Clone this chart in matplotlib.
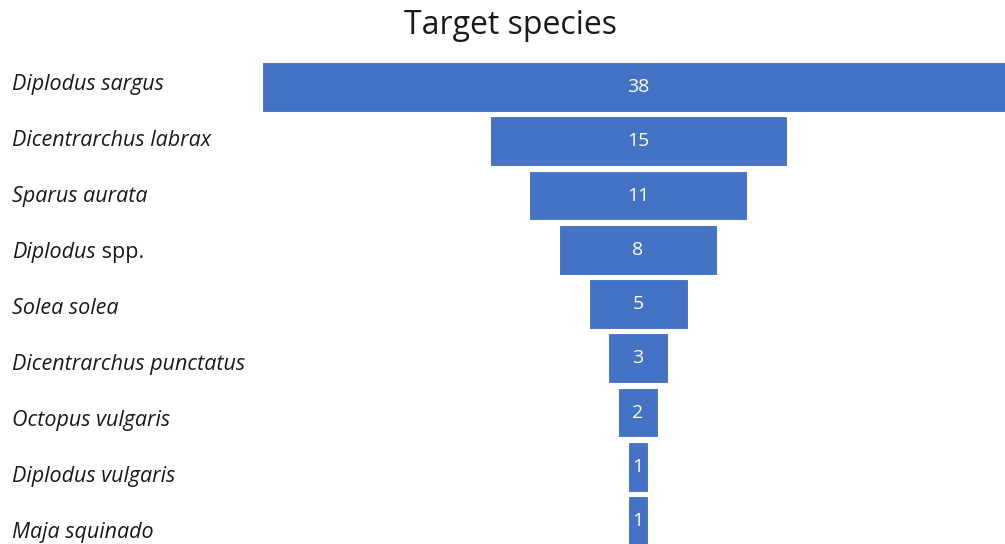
import matplotlib
matplotlib.use('Agg')
import matplotlib.pyplot as plt
import matplotlib.transforms as mtransforms

# species and counts, top to bottom
species = ['Diplodus sargus', 'Dicentrarchus labrax', 'Sparus aurata', 'Diplodus',
           'Solea solea', 'Dicentrarchus punctatus', 'Octopus vulgaris',
           'Diplodus vulgaris', 'Maja squinado']
suffix = ['', '', '', ' spp.', '', '', '', '', '']
counts = [38, 15, 11, 8, 5, 3, 2, 1, 1]

plt.rcParams['font.family'] = ['Open Sans', 'DejaVu Sans']

fig = plt.figure(figsize=(10.05, 5.44), dpi=100)
ax = fig.add_axes([0, 0, 1, 484 / 544])

pos = list(range(len(counts)))
lefts = [-c / 2 for c in counts]
ax.barh(pos, counts, left=lefts, height=0.92, color='#4472C4', edgecolor='white', linewidth=0.8)

for p, c in zip(pos, counts):
    ax.text(0, p, str(c), color='white', ha='center', va='center', fontsize=14)

ax.set_xlim(-638 / 19.8, 367 / 19.8)
ax.set_ylim(8.424, -0.498)
ax.axis('off')

# species labels on the left (their row spacing is a bit larger than the bars')
trans = mtransforms.blended_transform_factory(fig.transFigure, ax.transData)
fig.canvas.draw()
renderer = fig.canvas.get_renderer()
for p, name, suf in zip(pos, species, suffix):
    y = p * 56 / 54.25 - 0.04
    t = ax.text(12 / 1005, y, name, transform=trans, ha='left', va='center',
                fontsize=15.5, style='italic', color='#1a1a1a', clip_on=False)
    if suf:
        bb = t.get_window_extent(renderer)
        x_end = bb.x1 / fig.bbox.width
        ax.text(x_end, y, suf, transform=trans, ha='left', va='center',
                fontsize=15.5, color='#1a1a1a')

fig.text(510 / 1005, 1 - 26 / 544, 'Target species', ha='center', va='center',
         fontsize=23, color='#1a1a1a')

fig.savefig('out.png', dpi=100)
